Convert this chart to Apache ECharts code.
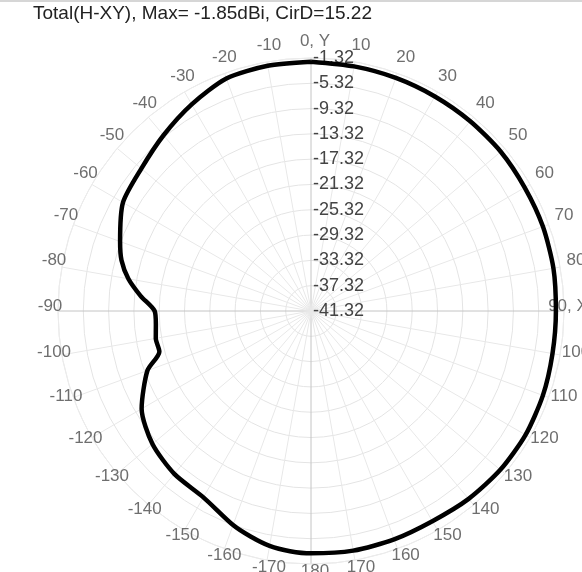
<!DOCTYPE html>
<html>
<head>
<meta charset="utf-8">
<script src="https://cdn.jsdelivr.net/npm/echarts@6/dist/echarts.min.js"></script>
<style>
html,body{margin:0;padding:0;background:#fff;}
#chart{width:582px;height:572px;position:relative;}
#topline{position:absolute;left:0;top:0;width:582px;height:2px;background:#d6d6d6;}
</style>
</head>
<body>
<div id="chart"></div>
<div id="topline"></div>
<script>
// Pattern angles (deg, clockwise from +Y) and total gain (dBi)
const angles = [0, 10, 20, 30, 40, 50, 60, 70, 80, 90, 100, 110, 120, 130, 140, 150, 160, 170, 180,
  -175, -170, -165, -160, -150, -140, -130, -120, -110, -105, -100, -95, -90, -85, -80, -75, -70,
  -60, -50, -40, -30, -20, -10];
const gainDb = [-1.9, -2.05, -2.1, -2.15, -2.15, -2.15, -2.3, -2.3, -2.4, -2.6, -2.55, -2.3, -2.15, -2.25, -2.55, -2.95, -2.9, -2.85, -3.0,
  -3.2, -3.6, -4.4, -5.3, -7.3, -7.7, -8.6, -10.4, -13.8, -16.5, -16.4, -16.7, -16.6, -14.3, -12.0, -10.3, -9.2,
  -7.0, -6.3, -5.05, -3.6, -2.2, -1.95];
const radiusTicks = [-41.32, -37.32, -33.32, -29.32, -25.32, -21.32, -17.32, -13.32, -9.32, -5.32, -1.32];
const angleTicks = [0, 10, 20, 30, 40, 50, 60, 70, 80, 90, 100, 110, 120, 130, 140, 150, 160, 170, 180,
  190, 200, 210, 220, 230, 240, 250, 260, 270, 280, 290, 300, 310, 320, 330, 340, 350];
const angleTickLabels = ['0, Y', '10', '20', '30', '40', '50', '60', '70', '80', '90, X', '100', '110', '120', '130', '140', '150', '160', '170', '180',
  '-170', '-160', '-150', '-140', '-130', '-120', '-110', '-100', '-90', '-80', '-70', '-60', '-50', '-40', '-30', '-20', '-10'];
const titleText = 'Total(H-XY), Max= -1.85dBi, CirD=15.22';

// build closed polygon sorted by angle 0..360
const pts = angles.map((a, i) => [gainDb[i], (a + 360) % 360]).sort((p, q) => p[1] - q[1]);
pts.push([pts[0][0], 360]);

const FONT = 'Liberation Sans, Arial, sans-serif';
const spokeColors = ['#c4c4c4', '#e8e8e8', '#e8e8e8', '#e8e8e8', '#e8e8e8', '#e8e8e8', '#e8e8e8', '#e8e8e8', '#e8e8e8'];

// angle tick labels: placed centred on a ring of the second polar system
const labelData = angleTicks.map((a, i) => {
  const item = {value: [1, a], name: angleTickLabels[i]};
  if (a === 90) item.label = {offset: [-12, 0]};
  return item;
});

const chart = echarts.init(document.getElementById('chart'), null, {renderer: 'canvas'});
chart.setOption({
  animation: false,
  title: {
    text: titleText, left: 33, top: 4, padding: 0,
    textStyle: {fontFamily: FONT, fontSize: 19, fontWeight: 'normal', color: '#222'}
  },
  polar: [
    {center: [311, 311], radius: 253},
    {center: [315, 306], radius: 265}
  ],
  angleAxis: [{
    polarIndex: 0,
    type: 'value', min: 0, max: 360, interval: 10, startAngle: 90, clockwise: true,
    axisLine: {show: true, lineStyle: {color: '#ececec', width: 1}},
    axisTick: {show: false},
    splitLine: {show: true, lineStyle: {color: spokeColors, width: 1}},
    axisLabel: {show: false}
  }, {
    polarIndex: 1,
    type: 'value', min: 0, max: 360, interval: 10, startAngle: 90, clockwise: true,
    axisLine: {show: false}, axisTick: {show: false}, splitLine: {show: false}, axisLabel: {show: false}
  }],
  radiusAxis: [{
    polarIndex: 0,
    type: 'value', min: radiusTicks[0], max: radiusTicks[radiusTicks.length - 1], interval: 4,
    axisLine: {show: false},
    axisTick: {show: false},
    splitLine: {show: true, lineStyle: {color: '#e4e4e4', width: 1}},
    axisLabel: {
      align: 'left', margin: -2, color: '#444', fontSize: 18, fontFamily: FONT,
      formatter: v => v.toFixed(2)
    }
  }, {
    polarIndex: 1,
    type: 'value', min: 0, max: 1,
    axisLine: {show: false}, axisTick: {show: false}, splitLine: {show: false}, axisLabel: {show: false}
  }],
  series: [{
    type: 'scatter', coordinateSystem: 'polar', polarIndex: 1, data: labelData,
    symbolSize: 0, clip: false, silent: true, z: 1,
    label: {
      show: true, position: 'inside', formatter: p => p.name,
      color: '#4a4a4a', fontSize: 17, fontFamily: FONT
    }
  }, {
    type: 'line', coordinateSystem: 'polar', polarIndex: 0, data: pts, showSymbol: false, smooth: 0.25,
    lineStyle: {color: '#000', width: 4.5}, z: 3
  }]
});
</script>
</body>
</html>
